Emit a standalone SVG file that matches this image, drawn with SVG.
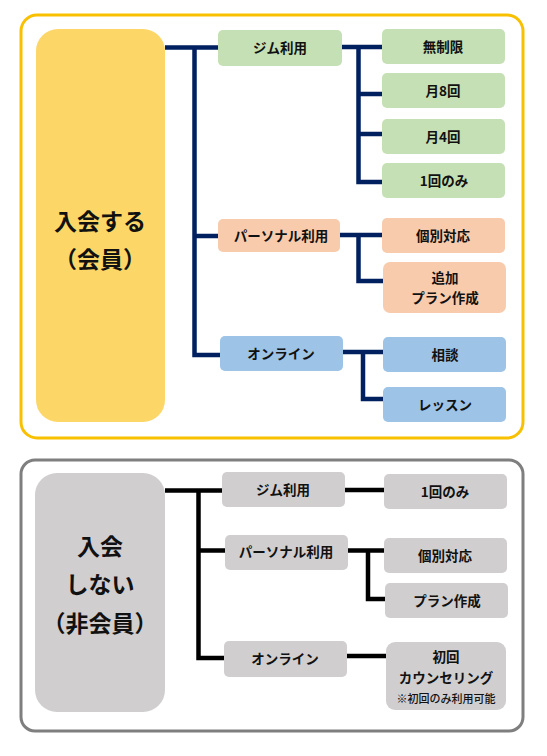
<svg xmlns="http://www.w3.org/2000/svg" width="547" height="756" viewBox="0 0 547 756">
<style>
text{font-family:"Noto Sans CJK JP","Noto Sans",sans-serif;font-weight:bold;fill:#111;text-anchor:middle;dominant-baseline:central}
.s{font-size:13.5px}
.b{font-size:23px}
.t{font-size:11px;font-weight:500}
.g{fill:#C5E0B4}
.p{fill:#F8CBAD}
.u{fill:#9DC3E6}
.n{fill:#D0CECE}
.cn path{fill:none;stroke-width:4.5;stroke-linejoin:miter;stroke-linecap:butt}
</style>
<rect width="547" height="756" fill="#fff"/>
<g id="member-frame"><rect x="21" y="15" width="502" height="423" rx="16" fill="#fff" stroke="#F9C000" stroke-width="3"/></g>
<g id="nonmember-frame"><rect x="21" y="460" width="502" height="271" rx="14" fill="#fff" stroke="#7F7F7F" stroke-width="3"/></g>
<g class="cn" id="connectors">
<path stroke="#002060" d="M165 47.5H219M194.5 47.5V355H220M194.5 236H219M340 47H382M358.5 47V182H382M358.5 94H382M358.5 134H382M339 235H382M358.5 235V281H383M342 352H383M363 352V399H383"/>
<path stroke="#000" d="M165 490.5H223M198.5 490.5V658H224M198.5 550.5H225M345 490H384M348 550.5H384M368 550.5V599H385M347 656H386"/>
</g>
<g id="member"><rect x="36" y="29" width="129" height="393" rx="22" fill="#FCD767"/><text class="b" x="100" y="220">入会する</text><text class="b" x="100" y="258">（会員）</text></g>
<g id="m-gym"><rect class="g" x="218" y="30" width="124" height="36" rx="5"/><text class="s" x="280" y="47">ジム利用</text></g>
<g id="m-unl"><rect class="g" x="382" y="29" width="123" height="35" rx="5"/><text class="s" x="443" y="46">無制限</text></g>
<g id="m-8"><rect class="g" x="382" y="73" width="123" height="35" rx="5"/><text class="s" x="443" y="90">月8回</text></g>
<g id="m-4"><rect class="g" x="382" y="119" width="123" height="35" rx="5"/><text class="s" x="443" y="136">月4回</text></g>
<g id="m-1"><rect class="g" x="382" y="163" width="123" height="35" rx="5"/><text class="s" x="444" y="180">1回のみ</text></g>
<g id="m-personal"><rect class="p" x="218" y="219" width="122" height="33" rx="5"/><text class="s" x="281" y="235">パーソナル利用</text></g>
<g id="m-indiv"><rect class="p" x="382" y="218" width="123" height="35" rx="5"/><text class="s" x="443" y="235">個別対応</text></g>
<g id="m-plan"><rect class="p" x="383" y="262" width="123" height="51" rx="7"/><text class="s" x="445" y="277">追加</text><text class="s" x="445" y="297">プラン作成</text></g>
<g id="m-online"><rect class="u" x="220" y="336" width="123" height="35" rx="5"/><text class="s" x="281" y="353">オンライン</text></g>
<g id="m-consult"><rect class="u" x="383" y="337" width="123" height="35" rx="5"/><text class="s" x="445" y="354">相談</text></g>
<g id="m-lesson"><rect class="u" x="383" y="387" width="123" height="35" rx="5"/><text class="s" x="445" y="404">レッスン</text></g>
<g id="nonmember"><rect class="n" x="35" y="473" width="130" height="239" rx="22"/><text class="b" x="100" y="545">入会</text><text class="b" x="100" y="583">しない</text><text class="b" x="100" y="622">（非会員）</text></g>
<g id="n-gym"><rect class="n" x="222" y="472" width="123" height="35" rx="5"/><text class="s" x="283" y="489">ジム利用</text></g>
<g id="n-1"><rect class="n" x="384" y="474" width="123" height="35" rx="5"/><text class="s" x="445" y="491">1回のみ</text></g>
<g id="n-personal"><rect class="n" x="225" y="535" width="123" height="35" rx="5"/><text class="s" x="286" y="551">パーソナル利用</text></g>
<g id="n-indiv"><rect class="n" x="384" y="538" width="123" height="35" rx="5"/><text class="s" x="445" y="555">個別対応</text></g>
<g id="n-plan"><rect class="n" x="385" y="583" width="123" height="35" rx="5"/><text class="s" x="447" y="600">プラン作成</text></g>
<g id="n-online"><rect class="n" x="224" y="641" width="123" height="36" rx="5"/><text class="s" x="285" y="658">オンライン</text></g>
<g id="n-counsel"><rect class="n" x="386" y="642" width="120" height="68" rx="9"/><text class="s" x="446" y="656">初回</text><text class="s" x="446" y="677">カウンセリング</text><text class="t" x="446" y="698">※初回のみ利用可能</text></g>
</svg>
